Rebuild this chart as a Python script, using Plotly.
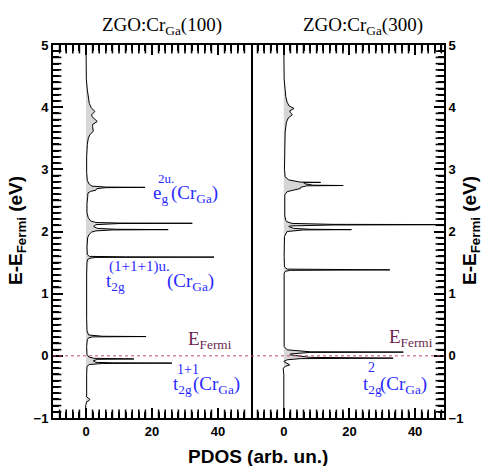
import plotly.graph_objects as go

# ---------------- data ----------------
E_100 = [5.0, 4.45, 4.28, 4.15, 4.06, 3.99, 3.93, 3.88, 3.85, 3.77, 3.72, 3.69, 3.61, 3.56, 3.50, 3.40,
         3.20, 2.95, 2.82, 2.76, 2.73, 2.715, 2.71, 2.705, 2.69, 2.665, 2.645, 2.62, 2.55, 2.45, 2.30,
         2.22, 2.17, 2.145, 2.136, 2.132, 2.128, 2.11, 2.08, 2.05, 2.036, 2.03, 2.025, 2.01, 1.99, 1.95,
         1.90, 1.75, 1.63, 1.60, 1.592, 1.588, 1.583, 1.57, 1.55, 1.50, 1.30, 0.60, 0.40, 0.335, 0.315,
         0.31, 0.305, 0.29, 0.26, 0.15, 0.02, -0.02, -0.04, -0.05, -0.056, -0.08, -0.105, -0.112, -0.117,
         -0.123, -0.14, -0.17, -0.30, -0.60, -0.66, -0.70, -0.72, -0.74, -0.80, -1.0]
PDOS_100 = [0.0, 0.1, 0.4, 0.7, 1.0, 1.6, 2.7, 1.7, 1.8, 3.4, 2.0, 2.0, 2.2, 1.2, 0.7, 0.4,
            0.2, 0.2, 0.4, 1.0, 1.8, 6.0, 17.9, 6.0, 3.3, 3.0, 1.4, 0.6, 0.5, 0.3, 0.3,
            0.7, 1.4, 3.0, 10.0, 32.2, 10.0, 3.0, 2.3, 3.5, 9.0, 24.9, 8.0, 3.0, 1.7, 0.9,
            0.5, 0.3, 0.4, 1.0, 12.0, 38.8, 3.0, 1.2, 0.5, 0.3, 0.2, 0.2, 0.3, 0.8, 5.0,
            18.2, 2.0, 0.8, 0.4, 0.2, 0.3, 0.9, 2.5, 14.5, 3.5, 2.2, 3.0, 8.0, 26.0,
            5.0, 1.0, 0.3, 0.2, 0.1, 0.2, 1.2, 0.9, 0.2, -0.1, 0.0]

E_300 = [5.0, 4.45, 4.28, 4.17, 4.08, 4.02, 3.98, 3.94, 3.91, 3.88, 3.83, 3.76, 3.60, 3.30,
         3.00, 2.88, 2.83, 2.795, 2.79, 2.785, 2.765, 2.745, 2.74, 2.735, 2.71, 2.69, 2.66, 2.64,
         2.59, 2.40, 2.25, 2.18, 2.16, 2.13, 2.115, 2.11, 2.105, 2.09, 2.08, 2.05, 2.036, 2.03,
         2.025, 2.00, 1.92, 1.60, 1.43, 1.395, 1.383, 1.375, 1.36, 1.33, 0.50, 0.15, 0.097, 0.065,
         0.06, 0.055, 0.03, 0.016, -0.025, -0.037, -0.045, -0.064, -0.09, -0.12, -0.145, -0.17,
         -0.20, -0.30, -1.0]
PDOS_300 = [0.0, 0.1, 0.4, 0.6, 1.0, 1.6, 3.1, 1.8, 2.0, 2.6, 1.4, 0.8, 0.4, 0.2,
            0.2, 0.4, 1.5, 5.0, 11.2, 6.0, 6.6, 9.0, 18.1, 7.0, 5.1, 5.0, 2.5, 1.0,
            0.3, 0.2, 0.3, 0.6, 0.8, 2.5, 15.0, 60.0, 15.0, 2.0, 1.5, 3.0, 8.0, 20.6,
            6.0, 1.0, 0.2, 0.1, 0.2, 1.0, 32.3, 2.0, 0.5, 0.1, 0.0, 0.1, 1.0, 8.0,
            36.4, 8.0, 2.0, 2.0, 8.0, 33.3, 5.0, 1.0, 0.0, 0.8, 1.8, 0.5,
            -0.2, 0.0, 0.0]

panel_titles = ["ZGO:Cr<sub>Ga</sub>(100)", "ZGO:Cr<sub>Ga</sub>(300)"]
x_tick_step = 20
x_minor_step = 2
y_tick_step = 1
y_minor_step = 0.1
fermi_level = 0.0

# ---------------- geometry / style ----------------
W, H = 484, 466
L, R, T, B = 53, 444, 45, 418
SPLIT = 251
SERIF = "Liberation Serif"
SANS = "Liberation Sans"
BLUE = "#2a2aff"
PURPLE = "#6c1f4f"
XR1 = [-10, 50]
XR2 = [-10, 48.8]
YR = [-1, 5]
MINLEN = 6


def px(x):
    return (x - L) / (R - L)


def py(y):
    return (B - y) / (B - T)


def steps(lo, hi, step):
    n = int(round((hi - lo) / step))
    return [round(lo + i * step, 6) for i in range(n + 1)]


fig = go.Figure()
fig.add_trace(go.Scatter(x=PDOS_100, y=E_100, xaxis="x", yaxis="y", mode="lines",
                         line=dict(color="black", width=1), fill="tozerox",
                         fillcolor="#d6d6d6", showlegend=False, hoverinfo="skip"))
fig.add_trace(go.Scatter(x=PDOS_300, y=E_300, xaxis="x2", yaxis="y2", mode="lines",
                         line=dict(color="black", width=1), fill="tozerox",
                         fillcolor="#d6d6d6", showlegend=False, hoverinfo="skip"))

# ---- minor ticks: tick-shaped markers along the frame (axis decoration) ----
ymin_vals = [v for v in steps(YR[0], YR[1], y_minor_step) if abs(v - round(v)) > 1e-6]
tick_marker = dict(color="black", size=MINLEN * 2, line=dict(color="black", width=1.6))
fig.add_trace(go.Scatter(x=[XR1[0]] * len(ymin_vals), y=ymin_vals, xaxis="x", yaxis="y",
                         mode="markers", marker=dict(symbol="line-ew", **tick_marker),
                         cliponaxis=True, showlegend=False, hoverinfo="skip"))
fig.add_trace(go.Scatter(x=[XR2[1]] * len(ymin_vals), y=ymin_vals, xaxis="x2", yaxis="y2",
                         mode="markers", marker=dict(symbol="line-ew", **tick_marker),
                         cliponaxis=True, showlegend=False, hoverinfo="skip"))
for xa, ya, xr in [("x", "y", XR1), ("x2", "y2", XR2)]:
    xv = [v for v in steps(xr[0], xr[1], x_minor_step)
          if abs(v % x_tick_step) > 1e-9 and xr[0] < v < xr[1]]
    fig.add_trace(go.Scatter(x=xv + xv, y=[YR[0]] * len(xv) + [YR[1]] * len(xv),
                             xaxis=xa, yaxis=ya, mode="markers",
                             marker=dict(symbol="line-ns", **tick_marker),
                             cliponaxis=True, showlegend=False, hoverinfo="skip"))

tickfont = dict(family=SANS, size=13, color="black", weight="bold")
major = dict(ticks="inside", ticklen=10, tickwidth=2, tickcolor="black",
             showgrid=False, zeroline=False, tickfont=tickfont, showline=True,
             linewidth=2, linecolor="black")
xminor = dict(ticks="inside", ticklen=MINLEN, tickwidth=1.6, tickcolor="black",
              dtick=x_minor_step, tick0=0)
yminor = dict(ticks="inside", ticklen=MINLEN, tickwidth=1.6, tickcolor="black",
              dtick=y_minor_step, tick0=0)

split = px(SPLIT)
fig.update_layout(
    width=W, height=H,
    margin=dict(l=L, r=W - R, t=T, b=H - B, pad=0),
    paper_bgcolor="white", plot_bgcolor="white",
    xaxis=dict(domain=[0, split], range=XR1, anchor="y", dtick=x_tick_step, tick0=0,
               mirror="ticks", minor=xminor, **major),
    xaxis2=dict(domain=[split, 1], range=XR2, anchor="y2", dtick=x_tick_step, tick0=0,
                mirror="ticks", minor=xminor, **major),
    yaxis=dict(anchor="x", side="left", range=YR, dtick=y_tick_step, tick0=0,
               mirror=True, minor=yminor, **major),
    yaxis2=dict(anchor="x2", side="right", range=YR, dtick=y_tick_step, tick0=0,
                mirror=False, minor=yminor, **major),
)

fig.add_shape(type="line", xref="paper", yref="y", x0=0, x1=1, y0=fermi_level,
              y1=fermi_level, line=dict(color="#c04a80", width=1, dash="dot"))

anns = []


def ann(text, x, y, size, color, family=SERIF, xanchor="left", yanchor="middle",
        angle=0, bold=False):
    f = dict(family=family, size=size, color=color)
    if bold:
        f["weight"] = "bold"
    anns.append(dict(text=text, x=px(x), y=py(y), xref="paper", yref="paper",
                     xanchor=xanchor, yanchor=yanchor, showarrow=False,
                     textangle=angle, font=f))


# panel titles
ann(panel_titles[0], 161.7, 26, 19, "black", xanchor="center")
ann(panel_titles[1], 362.5, 26, 19, "black", xanchor="center")

# axis titles
ann("E-E<sub>Fermi</sub> (eV)", 17, 231, 19, "black", family=SANS, xanchor="center",
    angle=-90, bold=True)
ann("E-E<sub>Fermi</sub> (eV)", 471, 231, 19, "black", family=SANS, xanchor="center",
    angle=-90, bold=True)
ann("PDOS (arb. un.)", 258, 456, 19, "black", family=SANS, xanchor="center", bold=True)

# orbital labels
ann("e<sub>g</sub>", 151, 194, 19, BLUE)
ann("2u.", 156, 178, 13, BLUE)
ann("(Cr<sub>Ga</sub>)", 169, 194, 19, BLUE)

ann("t<sub>2g</sub>", 104, 282, 19, BLUE)
ann("(1+1+1)u.", 107, 266.5, 15, BLUE)
ann("(Cr<sub>Ga</sub>)", 165, 282, 19, BLUE)

ann("t<sub>2g</sub>", 171, 385, 19, BLUE)
ann("1+1", 175, 369, 14, BLUE)
ann("(Cr<sub>Ga</sub>)", 191, 385, 19, BLUE)

ann("t<sub>2g</sub>", 361, 385, 19, BLUE)
ann("2", 366, 367, 14, BLUE)
ann("(Cr<sub>Ga</sub>)", 378, 385, 19, BLUE)

ann("E<sub>Fermi</sub>", 186, 340, 19, PURPLE)
ann("E<sub>Fermi</sub>", 386.5, 338, 19, PURPLE)

fig.update_layout(annotations=anns)
fig.write_html("out.html")
